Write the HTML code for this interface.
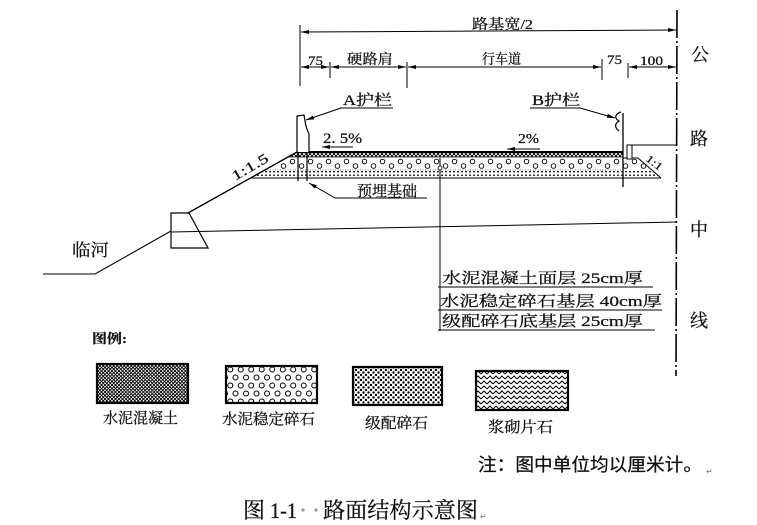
<!DOCTYPE html>
<html><head><meta charset="utf-8">
<style>
html,body{margin:0;padding:0;background:#fff;}
svg{display:block;}
text{fill:#111;stroke:#111;stroke-width:0.25;}
</style></head><body>
<svg width="757" height="525" viewBox="0 0 757 525" xmlns="http://www.w3.org/2000/svg" font-family="Liberation Serif, Noto Serif CJK SC, serif">
<defs>
  <marker id="ar" viewBox="0 0 8 4" refX="8" refY="2" markerWidth="8" markerHeight="4" orient="auto-start-reverse" markerUnits="userSpaceOnUse"><path d="M0,0 L8,2 L0,4 z" fill="#000"/></marker>
  <pattern id="rHatch" patternUnits="userSpaceOnUse" width="4" height="4" x="0" y="152"><path d="M0,0L4,4M4,0L0,4" stroke="#000" stroke-width="0.9"/></pattern>
  <pattern id="rCirc" patternUnits="userSpaceOnUse" width="18" height="12" x="0" y="157"><circle cx="4.5" cy="4.5" r="2.3" fill="#fff" stroke="#000" stroke-width="0.9"/><circle cx="13.5" cy="9" r="2.3" fill="#fff" stroke="#000" stroke-width="0.9"/></pattern>
  <pattern id="rDots" patternUnits="userSpaceOnUse" width="4" height="3.5" x="0" y="170"><circle cx="2" cy="1.75" r="0.9" fill="#000"/></pattern>
  <pattern id="lCon" patternUnits="userSpaceOnUse" width="3.5" height="3.5"><path d="M0,0L3.5,3.5M3.5,0L0,3.5" stroke="#000" stroke-width="0.9"/></pattern>
  <pattern id="lCirc" patternUnits="userSpaceOnUse" width="10.5" height="16" x="225" y="365"><circle cx="5.25" cy="4.5" r="2.5" fill="none" stroke="#000" stroke-width="1"/><circle cx="0" cy="12.5" r="2.5" fill="none" stroke="#000" stroke-width="1"/><circle cx="10.5" cy="12.5" r="2.5" fill="none" stroke="#000" stroke-width="1"/></pattern>
  <pattern id="lDots" patternUnits="userSpaceOnUse" width="5" height="5" x="352" y="366"><circle cx="1.5" cy="1.5" r="1.2" fill="#000"/><circle cx="4" cy="4" r="1.2" fill="#000"/></pattern>
  <pattern id="lChev" patternUnits="userSpaceOnUse" width="6" height="5" x="475" y="370"><path d="M0,4 L3,1 L6,4" fill="none" stroke="#000" stroke-width="1"/></pattern>
</defs>

<!-- center line -->
<line x1="677" y1="10" x2="676" y2="376" stroke="#000" stroke-width="1.6" stroke-dasharray="28,3,2,3"/>

<!-- top dimension -->
<line x1="300" y1="25" x2="300" y2="86" stroke="#000" stroke-width="1"/>
<line x1="301" y1="32" x2="676" y2="30" stroke="#000" stroke-width="1" marker-start="url(#ar)" marker-end="url(#ar)"/>
<text x="472" y="29" font-size="14" textLength="61" lengthAdjust="spacingAndGlyphs">路基宽/2</text>

<!-- second dimension row -->
<line x1="330" y1="62" x2="330" y2="78" stroke="#000" stroke-width="1"/>
<line x1="407" y1="62" x2="407" y2="88" stroke="#000" stroke-width="1"/>
<line x1="602" y1="59" x2="602" y2="80" stroke="#000" stroke-width="1"/>
<line x1="628" y1="63" x2="628" y2="78" stroke="#000" stroke-width="1"/>
<line x1="301" y1="67" x2="329" y2="67" stroke="#000" stroke-width="1" marker-start="url(#ar)" marker-end="url(#ar)"/>
<line x1="331" y1="67" x2="406" y2="67" stroke="#000" stroke-width="1" marker-start="url(#ar)" marker-end="url(#ar)"/>
<line x1="408" y1="67" x2="601" y2="67" stroke="#000" stroke-width="1" marker-start="url(#ar)" marker-end="url(#ar)"/>
<line x1="629" y1="67" x2="676" y2="67" stroke="#000" stroke-width="1" marker-start="url(#ar)" marker-end="url(#ar)"/>
<text x="308" y="65" font-size="13" textLength="15" lengthAdjust="spacingAndGlyphs">75</text>
<text x="347" y="64" font-size="14" textLength="46" lengthAdjust="spacingAndGlyphs">硬路肩</text>
<text x="482" y="64" font-size="14" textLength="39" lengthAdjust="spacingAndGlyphs">行车道</text>
<text x="607" y="64" font-size="13" textLength="15" lengthAdjust="spacingAndGlyphs">75</text>
<text x="640" y="65" font-size="13" textLength="23" lengthAdjust="spacingAndGlyphs">100</text>

<!-- right side characters -->
<text x="691" y="61" font-size="18">公</text>
<text x="690" y="145" font-size="18">路</text>
<text x="690" y="236" font-size="18">中</text>
<text x="690" y="327" font-size="18">线</text>

<!-- guardrail labels -->
<text x="343" y="105" font-size="15" textLength="49" lengthAdjust="spacingAndGlyphs">A护栏</text>
<line x1="340" y1="108" x2="393" y2="108" stroke="#000" stroke-width="1"/>
<line x1="341" y1="108" x2="306" y2="120" stroke="#000" stroke-width="1" marker-end="url(#ar)"/>
<text x="532" y="105" font-size="15" textLength="48" lengthAdjust="spacingAndGlyphs">B护栏</text>
<line x1="530" y1="108" x2="581" y2="108" stroke="#000" stroke-width="1"/>
<line x1="580" y1="108" x2="615" y2="118" stroke="#000" stroke-width="1" marker-end="url(#ar)"/>

<!-- slopes labels -->
<text x="323" y="143" font-size="15" textLength="39" lengthAdjust="spacingAndGlyphs">2. 5%</text>
<line x1="322" y1="147" x2="353" y2="147" stroke="#000" stroke-width="0.9" marker-start="url(#ar)"/>
<text x="518" y="143" font-size="14" textLength="21" lengthAdjust="spacingAndGlyphs">2%</text>
<line x1="507" y1="149" x2="540" y2="149" stroke="#000" stroke-width="0.9" marker-start="url(#ar)"/>

<!-- road layers -->
<polygon points="297,152 623,152 623,157 288,157" fill="url(#rHatch)"/>
<polygon points="288,157 623,157 623,170 265,170" fill="url(#rCirc)"/>
<polygon points="265,170 623,170 623,178 251,178" fill="url(#rDots)"/>
<polygon points="623,158 638,158 652,170 623,170" fill="url(#rCirc)"/>
<polygon points="623,170 652,170 661,178 623,178" fill="url(#rDots)"/>
<line x1="297" y1="152" x2="623" y2="152" stroke="#000" stroke-width="2"/>
<line x1="288" y1="157" x2="623" y2="157" stroke="#000" stroke-width="0.8"/>
<line x1="265" y1="170" x2="623" y2="170" stroke="#000" stroke-width="0.6" stroke-dasharray="1,1.5"/>
<line x1="251" y1="178" x2="661" y2="178" stroke="#000" stroke-width="1"/>
<polyline points="623,158 638,158 661,178" fill="none" stroke="#000" stroke-width="1"/>

<!-- embankment slope, wall, river -->
<line x1="297" y1="152" x2="188" y2="213" stroke="#000" stroke-width="1.4"/>
<polygon points="171,213 189,213 208,248 171,248" fill="#fff" stroke="#000" stroke-width="1.2"/>
<line x1="171" y1="232" x2="677" y2="222" stroke="#000" stroke-width="1"/>
<polyline points="171,231 95,274 43,274" fill="none" stroke="#000" stroke-width="1.1"/>
<text x="72" y="256" font-size="17" textLength="37" lengthAdjust="spacingAndGlyphs">临河</text>
<text transform="translate(235,181) rotate(-30)" font-size="14" textLength="40" lengthAdjust="spacingAndGlyphs">1:1.5</text>
<text transform="translate(645,160) rotate(38)" font-size="11" textLength="18" lengthAdjust="spacingAndGlyphs">1:1</text>

<!-- guardrail A -->
<path d="M297,152 L297,116 L304,115 L305,121 Q306,128 309,134 L309,152" fill="#fff" stroke="#000" stroke-width="1.2"/>
<!-- foundation -->
<line x1="298" y1="152" x2="298" y2="181" stroke="#000" stroke-width="1.2"/>
<line x1="307" y1="152" x2="307" y2="181" stroke="#000" stroke-width="1.2"/>
<polyline points="309,183 335,198 427,198" fill="none" stroke="#000" stroke-width="1" marker-start="url(#ar)"/>
<text x="357" y="196" font-size="15" textLength="60" lengthAdjust="spacingAndGlyphs">预埋基础</text>

<!-- guardrail B -->
<line x1="623" y1="113" x2="623" y2="187" stroke="#000" stroke-width="1.3"/>
<path d="M621,112 C615,114 614,118 619,121 C614,124 615,128 619,131" fill="none" stroke="#000" stroke-width="1.2"/>
<rect x="627" y="145" width="5" height="14" fill="#fff" stroke="#000" stroke-width="1"/>
<line x1="632" y1="145" x2="677" y2="145" stroke="#000" stroke-width="1"/>

<!-- layer labels -->
<line x1="440" y1="158" x2="440" y2="331" stroke="#000" stroke-width="1"/>
<circle cx="440" cy="168" r="2" fill="#fff" stroke="#000" stroke-width="0.8"/>
<text x="442" y="283" font-size="15" textLength="201" lengthAdjust="spacingAndGlyphs">水泥混凝土面层 25cm厚</text>
<line x1="438" y1="287" x2="653" y2="287" stroke="#000" stroke-width="1"/>
<text x="440" y="306" font-size="15" textLength="222" lengthAdjust="spacingAndGlyphs">水泥稳定碎石基层 40cm厚</text>
<line x1="438" y1="310" x2="662" y2="310" stroke="#000" stroke-width="1"/>
<text x="442" y="326" font-size="15" textLength="201" lengthAdjust="spacingAndGlyphs">级配碎石底基层 25cm厚</text>
<line x1="438" y1="330" x2="655" y2="330" stroke="#000" stroke-width="1"/>

<!-- legend -->
<text x="92" y="343" font-size="13" font-weight="bold" textLength="35" lengthAdjust="spacingAndGlyphs">图例:</text>
<rect x="97" y="364" width="91" height="39" fill="url(#lCon)" stroke="#000" stroke-width="2.2"/>
<text x="103" y="423" font-size="15" textLength="75" lengthAdjust="spacingAndGlyphs">水泥混凝土</text>
<rect x="226" y="366" width="91" height="37" fill="url(#lCirc)" stroke="#000" stroke-width="2.2"/>
<text x="222" y="424" font-size="15" textLength="93" lengthAdjust="spacingAndGlyphs">水泥稳定碎石</text>
<rect x="353" y="367" width="89" height="38" fill="url(#lDots)" stroke="#000" stroke-width="2.2"/>
<text x="365" y="428" font-size="15" textLength="63" lengthAdjust="spacingAndGlyphs">级配碎石</text>
<rect x="476" y="371" width="92" height="39" fill="url(#lChev)" stroke="#000" stroke-width="2.2"/>
<text x="488" y="432" font-size="15" textLength="65" lengthAdjust="spacingAndGlyphs">浆砌片石</text>

<!-- notes -->
<text x="478" y="471" font-size="18" textLength="224" lengthAdjust="spacingAndGlyphs" font-family="Liberation Sans, Noto Sans CJK SC, sans-serif">注：图中单位均以厘米计。</text>
<text x="706" y="474" font-size="8" style="fill:#777;stroke:none">↵</text>

<text x="243" y="518" font-size="22">图</text>
<text x="270" y="518" font-size="22" textLength="27" lengthAdjust="spacingAndGlyphs">1-1</text>
<circle cx="303" cy="510" r="1.6" fill="#999"/>
<circle cx="316" cy="510" r="1.6" fill="#999"/>
<text x="323" y="518" font-size="22" textLength="155" lengthAdjust="spacingAndGlyphs">路面结构示意图</text>
<text x="480" y="519" font-size="8" style="fill:#777;stroke:none">↵</text>
</svg>
</body></html>
